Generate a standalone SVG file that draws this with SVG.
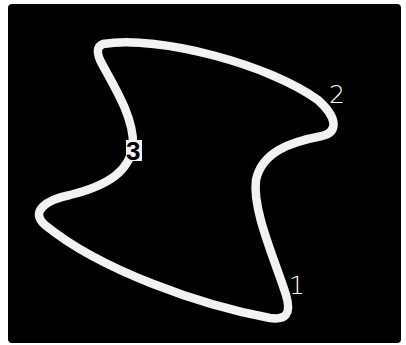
<svg xmlns="http://www.w3.org/2000/svg" width="406" height="345" viewBox="0 0 406 345">
<style>
.curve{fill:none;stroke:#f2f2f2;stroke-width:8.5;stroke-linejoin:round}
.lbl{font-family:"DejaVu Sans","Liberation Sans",sans-serif;font-weight:200;font-size:25px;fill:#ffffff}
</style>
<rect x="0" y="0" width="406" height="345" fill="#ffffff"/>
<rect id="frame" x="8" y="4" width="393" height="339" rx="4" fill="#000000"/>
<g id="loop">
<path class="curve" d="M 103,44 C 160,35 270,65 318,100 C 338,118 338,132 322,136 C 290,142 262,152 256,180 C 252,210 275,260 286,295 C 292,315 285,320 270,318 C 200,305 100,270 45,225 C 30,212 45,200 70,195 C 110,185 130,170 133,145 C 134,115 110,80 100,60 C 96,50 98,46 103,44 Z"/>
</g>
<g id="labels">
<text class="lbl" x="329" y="103">2</text>
<text class="lbl" x="289" y="294" font-size="24">1</text>
<rect x="126" y="140" width="16" height="21" fill="#f2f2f2"/>
<text x="126" y="160" font-family="'Liberation Sans',Arial,sans-serif" font-weight="bold" font-size="26" fill="#000000">3</text>
</g>
</svg>
